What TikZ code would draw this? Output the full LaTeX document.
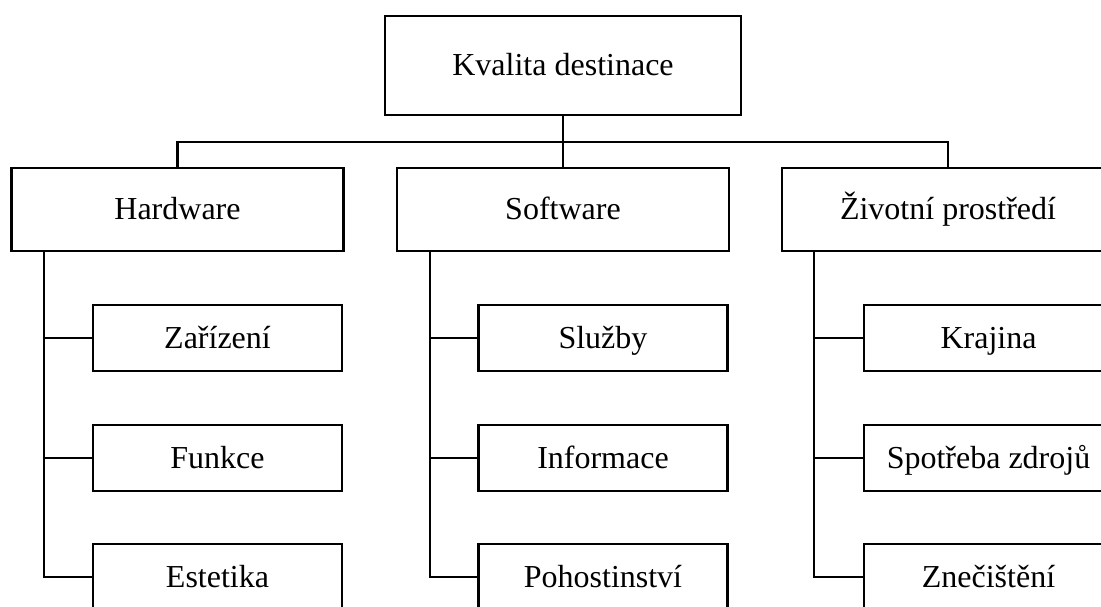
\documentclass[tikz,border=0pt]{standalone}
\usepackage{fontspec}
\setmainfont{Liberation Serif}
\begin{document}
\begin{tikzpicture}[x=1pt,y=-1pt,
  line width=2.8pt,
  box/.style={draw,rectangle,inner sep=0pt,align=center,
    text height=27pt,text depth=7pt,
    font=\fontsize{32}{38}\selectfont},
  rootbox/.style={box,minimum width=356pt,minimum height=99pt},
  groupbox/.style={box,minimum width=332pt,minimum height=83pt},
  leafbox/.style={box,minimum width=249pt,minimum height=66pt},
  link/.style={draw,line width=2.8pt}]
\useasboundingbox (0,0) rectangle (1101,606);
\clip (0,0) rectangle (1101,606);

% root
\node[rootbox] (root) at (563,65.5) {Kvalita destinace};

% second level
\node[groupbox] (hw) at (177.5,209.5) {Hardware};
\node[groupbox] (sw) at (563,209.5) {Software};
\node[groupbox] (env) at (948,209.5) {Životní prostředí};

% leaves
\node[leafbox] (hw1) at (217.5,338) {Zařízení};
\node[leafbox] (hw2) at (217.5,458) {Funkce};
\node[leafbox] (hw3) at (217.5,577) {Estetika};

\node[leafbox] (sw1) at (603,338) {Služby};
\node[leafbox] (sw2) at (603,458) {Informace};
\node[leafbox] (sw3) at (603,577) {Pohostinství};

\node[leafbox] (env1) at (988.5,338) {Krajina};
\node[leafbox] (env2) at (988.5,458) {Spotřeba zdrojů};
\node[leafbox] (env3) at (988.5,577) {Znečištění};

% bus from the root to the second level
\coordinate (bus) at (563,142);
\draw[link] (root.south) -- (bus);
\draw[link] (hw.north) |- (bus) -| (env.north);
\draw[link] (bus) -- (sw.north);

% trunks with their branches
\coordinate (thw) at (44,251);
\coordinate (tsw) at (430,251);
\coordinate (tenv) at (814,251);

\draw[link] (thw) |- (hw3.west);
\draw[link] (hw1.west) -- (hw1.west -| thw);
\draw[link] (hw2.west) -- (hw2.west -| thw);

\draw[link] (tsw) |- (sw3.west);
\draw[link] (sw1.west) -- (sw1.west -| tsw);
\draw[link] (sw2.west) -- (sw2.west -| tsw);

\draw[link] (tenv) |- (env3.west);
\draw[link] (env1.west) -- (env1.west -| tenv);
\draw[link] (env2.west) -- (env2.west -| tenv);
\end{tikzpicture}
\end{document}
